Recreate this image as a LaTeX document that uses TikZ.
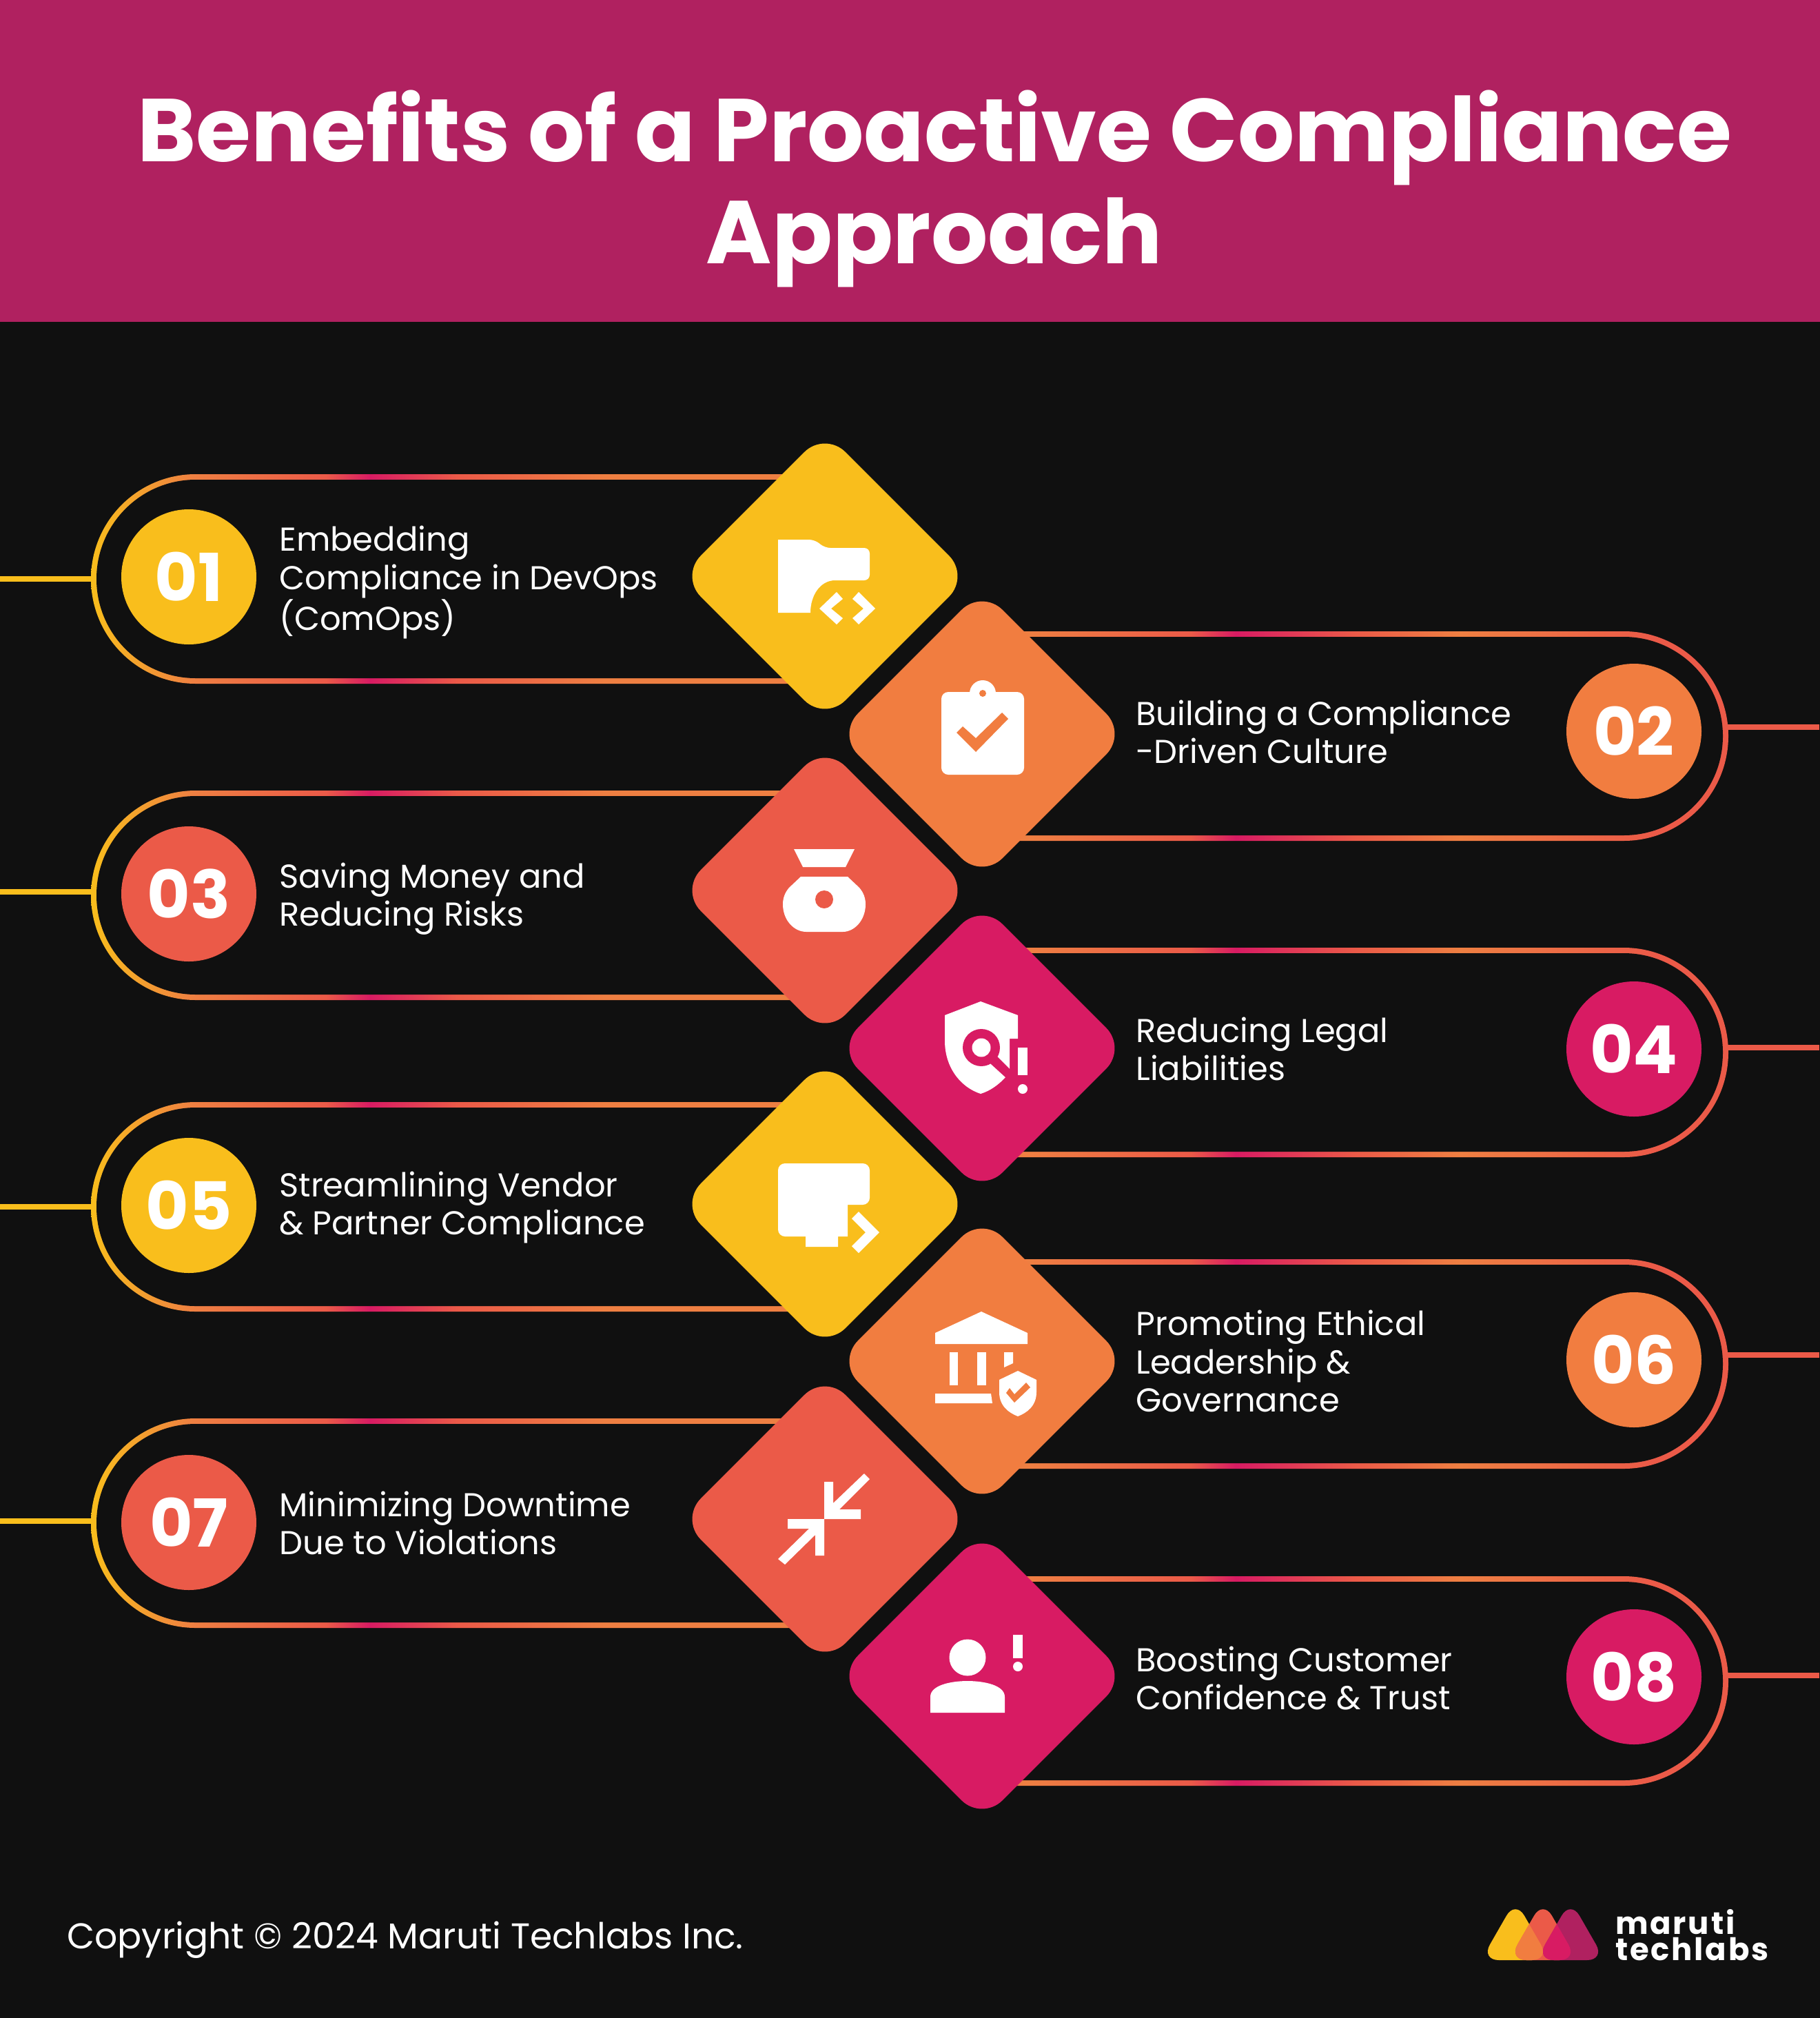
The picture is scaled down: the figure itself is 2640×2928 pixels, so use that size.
\documentclass[tikz,border=0pt]{standalone}
\usepackage{fontspec}
\usepackage{tikz}
\usetikzlibrary{shapes.geometric}
\setmainfont{Poppins}
\newfontfamily\logofont[LetterSpace=6.0]{Poppins}

\definecolor{bgdark}{HTML}{101010}
\definecolor{headerplum}{HTML}{B02160}
\definecolor{ityellow}{HTML}{F9BE1C}
\definecolor{itorange}{HTML}{F17D40}
\definecolor{itcoral}{HTML}{EB5A48}
\definecolor{itpink}{HTML}{D81B63}
\definecolor{ringorange}{HTML}{EE7F42}

\pgfdeclarehorizontalshading{ringleft}{100bp}{color(0bp)=(ityellow); color(25bp)=(ityellow); color(32bp)=(ringorange); color(41bp)=(itcoral); color(44bp)=(itpink); color(50bp)=(itcoral); color(60bp)=(ringorange); color(100bp)=(ringorange)}
\pgfdeclarehorizontalshading{ringright}{100bp}{color(0bp)=(ringorange); color(28bp)=(ringorange); color(39bp)=(itcoral); color(42bp)=(itpink); color(50bp)=(itcoral); color(57bp)=(ringorange); color(70bp)=(itcoral); color(100bp)=(itcoral)}

\tikzset{
  pillL/.style={shading=ringleft},
  pillR/.style={shading=ringright},
  pillin/.style={fill=bgdark},
  stub/.style={line width=3.8pt},
  numdot/.style={circle, minimum size=98pt, inner sep=0pt, text=white, font=\fontsize{48}{48}\selectfont\bfseries},
  itemtext/.style={anchor=west, align=left, inner sep=0pt, text=white, font=\fontsize{24}{27.7}\selectfont},
  icondiamond/.style={diamond, aspect=1, minimum size=210pt, inner sep=0pt, rounded corners=21pt},
  iconwhite/.style={fill=white}
}

\begin{document}
\begin{tikzpicture}[x=0.5pt,y=-0.5pt]
  \useasboundingbox (0,0) rectangle (2640,2928);
  % background and header band
  \fill[bgdark] (-5,-5) rectangle (2645,2933);
  \fill[headerplum] (-5,-5) rectangle (2645,467);
  \node[align=center, text=white, inner sep=0pt, font=\fontsize{64.7}{74.3}\selectfont\bfseries] (title) at (1356,274)
    {\spaceskip=13pt Benefits of a Proactive Compliance\\Approach};

  % rings on the left
  \shade[pillL] (1197,688) [rounded corners=76pt] -- (132,688) -- (132,992) [sharp corners] -- (1197,992) -- cycle;
  \fill[pillin] (1197,696) [rounded corners=72pt] -- (140,696) -- (140,984) [sharp corners] -- (1197,984) -- cycle;
  \shade[pillL] (1197,1147) [rounded corners=76pt] -- (132,1147) -- (132,1451) [sharp corners] -- (1197,1451) -- cycle;
  \fill[pillin] (1197,1155) [rounded corners=72pt] -- (140,1155) -- (140,1443) [sharp corners] -- (1197,1443) -- cycle;
  \shade[pillL] (1197,1599) [rounded corners=76pt] -- (132,1599) -- (132,1903) [sharp corners] -- (1197,1903) -- cycle;
  \fill[pillin] (1197,1607) [rounded corners=72pt] -- (140,1607) -- (140,1895) [sharp corners] -- (1197,1895) -- cycle;
  \shade[pillL] (1197,2058) [rounded corners=76pt] -- (132,2058) -- (132,2362) [sharp corners] -- (1197,2362) -- cycle;
  \fill[pillin] (1197,2066) [rounded corners=72pt] -- (140,2066) -- (140,2354) [sharp corners] -- (1197,2354) -- cycle;

  % rings on the right
  \shade[pillR] (1425,916) [rounded corners=76pt] -- (2508,916) -- (2508,1220) [sharp corners] -- (1425,1220) -- cycle;
  \fill[pillin] (1425,924) [rounded corners=72pt] -- (2500,924) -- (2500,1212) [sharp corners] -- (1425,1212) -- cycle;
  \shade[pillR] (1425,1375) [rounded corners=76pt] -- (2508,1375) -- (2508,1679) [sharp corners] -- (1425,1679) -- cycle;
  \fill[pillin] (1425,1383) [rounded corners=72pt] -- (2500,1383) -- (2500,1671) [sharp corners] -- (1425,1671) -- cycle;
  \shade[pillR] (1425,1827) [rounded corners=76pt] -- (2508,1827) -- (2508,2131) [sharp corners] -- (1425,2131) -- cycle;
  \fill[pillin] (1425,1835) [rounded corners=72pt] -- (2500,1835) -- (2500,2123) [sharp corners] -- (1425,2123) -- cycle;
  \shade[pillR] (1425,2287) [rounded corners=76pt] -- (2508,2287) -- (2508,2591) [sharp corners] -- (1425,2591) -- cycle;
  \fill[pillin] (1425,2295) [rounded corners=72pt] -- (2500,2295) -- (2500,2583) [sharp corners] -- (1425,2583) -- cycle;

  % stubs at the page edges
  \coordinate (inA) at (0,840);    \coordinate (ringA) at (134,840);
  \coordinate (inC) at (0,1294);   \coordinate (ringC) at (134,1294);
  \coordinate (inE) at (0,1751);   \coordinate (ringE) at (134,1751);
  \coordinate (inG) at (0,2207);   \coordinate (ringG) at (134,2207);
  \coordinate (inB) at (2640,1055); \coordinate (ringB) at (2506,1055);
  \coordinate (inD) at (2640,1520); \coordinate (ringD) at (2506,1520);
  \coordinate (inF) at (2640,1966); \coordinate (ringF) at (2506,1966);
  \coordinate (inH) at (2640,2431); \coordinate (ringH) at (2506,2431);
  \draw[stub, ityellow] (inA) -- (ringA);
  \draw[stub, ityellow] (inC) -- (ringC);
  \draw[stub, ityellow] (inE) -- (ringE);
  \draw[stub, ityellow] (inG) -- (ringG);
  \draw[stub, itcoral] (inB) -- (ringB);
  \draw[stub, itcoral] (inD) -- (ringD);
  \draw[stub, itcoral] (inF) -- (ringF);
  \draw[stub, itcoral] (inH) -- (ringH);

  % number discs
  \node[numdot, fill=ityellow] (numA) at (274,837) {01};
  \node[numdot, fill=itorange] (numB) at (2371,1061) {02};
  \node[numdot, fill=itcoral] (numC) at (274,1297) {03};
  \node[numdot, fill=itpink] (numD) at (2371,1522) {04};
  \node[numdot, fill=ityellow] (numE) at (274,1749) {05};
  \node[numdot, fill=itorange] (numF) at (2371,1973) {06};
  \node[numdot, fill=itcoral] (numG) at (274,2209) {07};
  \node[numdot, fill=itpink] (numH) at (2371,2433) {08};

  % labels
  \node[itemtext] (txtA) at (405,845) {Embedding\\Compliance in DevOps\\(ComOps)};
  \node[itemtext] (txtB) at (1648,1062) {Building a Compliance\\-Driven Culture};
  \node[itemtext] (txtC) at (405,1304) {Saving Money and\\Reducing Risks};
  \node[itemtext] (txtD) at (1648,1522) {Reducing Legal\\Liabilities};
  \node[itemtext] (txtE) at (405,1752) {Streamlining Vendor\\\& Partner Compliance};
  \node[itemtext] (txtF) at (1648,1975) {Promoting Ethical\\Leadership \&\\Governance};
  \node[itemtext] (txtG) at (405,2210) {Minimizing Downtime\\Due to Violations};
  \node[itemtext] (txtH) at (1648,2435) {Boosting Customer\\Confidence \& Trust};

  % diamonds
  \node[icondiamond, fill=ityellow] (gemA) at (1197,836) {};
  \node[icondiamond, fill=itorange] (gemB) at (1425,1065) {};
  \node[icondiamond, fill=itcoral] (gemC) at (1197,1292) {};
  \node[icondiamond, fill=itpink] (gemD) at (1425,1521) {};
  \node[icondiamond, fill=ityellow] (gemE) at (1197,1747) {};
  \node[icondiamond, fill=itorange] (gemF) at (1425,1975) {};
  \node[icondiamond, fill=itcoral] (gemG) at (1197,2204) {};
  \node[icondiamond, fill=itpink] (gemH) at (1425,2432) {};

  % icon: folder with code marks
  \fill[iconwhite, rounded corners=4pt] (1129,783) -- (1182,783) -- (1197,795) -- (1262,795) -- (1262,842) -- (1220,842)
    [sharp corners] .. controls (1190,842) and (1176,864) .. (1176,889) -- (1129,889) -- cycle;
  \fill[iconwhite] (1189,883) -- (1214,859) -- (1223,869) -- (1206,883) -- (1223,897) -- (1214,906) -- cycle;
  \fill[iconwhite] (1270,883) -- (1246,859) -- (1237,869) -- (1253,883) -- (1237,897) -- (1246,906) -- cycle;

  % icon: clipboard with tick
  \fill[iconwhite] (1426,1006) circle (19);
  \fill[iconwhite, rounded corners=5pt] (1366,1004) rectangle (1486,1124);
  \fill[itorange] (1426,1006) circle (5);
  \fill[itorange] (1388,1063) -- (1397,1054) -- (1416,1071) -- (1454,1034) -- (1463,1043) -- (1416,1091) -- cycle;

  % icon: money bag
  \fill[iconwhite] (1152,1232) -- (1240,1232) -- (1227,1258) -- (1165,1258) -- cycle;
  \fill[iconwhite] (1162,1272) -- (1230,1272) -- (1247,1288) .. controls (1253,1295) and (1256,1303) .. (1256,1312)
    .. controls (1256,1335) and (1240,1352) .. (1223,1352) -- (1170,1352) .. controls (1152,1352) and (1136,1335) .. (1136,1312)
    .. controls (1136,1303) and (1139,1295) .. (1145,1288) -- cycle;
  \fill[itcoral] (1196,1305) circle (13);

  % icon: shield with magnifier
  \fill[iconwhite] (1423,1453) -- (1477,1473) -- (1477,1507) -- (1465,1507) -- (1465,1551) -- (1459,1563)
    .. controls (1448,1575) and (1436,1583) .. (1423,1587) .. controls (1395,1578) and (1371,1550) .. (1371,1510) -- (1371,1473) -- cycle;
  \fill[itpink] (1424,1520) circle (27);
  \fill[iconwhite] (1424,1520) circle (13.5);
  \fill[itpink] (1447,1533) -- (1466,1552) -- (1466,1566) -- (1459,1563) -- (1437,1543) -- cycle;
  \fill[iconwhite] (1477,1520) rectangle (1491,1560);
  \fill[iconwhite] (1484,1580) circle (7);

  % icon: screen with arrow
  \fill[iconwhite, rounded corners=5pt] (1129,1688) -- (1262,1688) -- (1262,1748) [sharp corners] -- (1230,1748) -- (1230,1794) -- (1216,1794) -- (1216,1809) -- (1169,1809)
    -- (1169,1794) [rounded corners=5pt] -- (1129,1794) -- cycle;
  \fill[iconwhite] (1246,1758) -- (1276,1788) -- (1246,1818) -- (1236,1808) -- (1256,1788) -- (1236,1768) -- cycle;

  % icon: bank with small shield
  \fill[iconwhite] (1424,1903) -- (1491,1934) -- (1491,1950) -- (1357,1950) -- (1357,1934) -- cycle;
  \fill[iconwhite] (1378,1962) rectangle (1390,2010);
  \fill[iconwhite] (1418,1962) rectangle (1431,2010);
  \fill[iconwhite] (1457,1962) -- (1470,1962) -- (1470,1978) -- (1457,1984) -- cycle;
  \fill[iconwhite] (1357,2022) -- (1438,2022) -- (1440,2036) -- (1357,2036) -- cycle;
  \fill[iconwhite] (1477,1989) -- (1504,2002) -- (1504,2020) .. controls (1504,2040) and (1490,2050) .. (1477,2055)
    .. controls (1464,2050) and (1450,2040) .. (1450,2020) -- (1450,2002) -- cycle;
  \fill[itorange] (1460,2021) -- (1465,2014) -- (1472,2023) -- (1489,2006) -- (1495,2013) -- (1472,2035) -- cycle;

  % icon: arrows pointing inward
  \fill[iconwhite] (1196,2150) -- (1209,2150) -- (1209,2181) -- (1254,2138) -- (1262,2146) -- (1218,2190) -- (1249,2190) -- (1249,2204) -- (1196,2204) -- cycle;
  \fill[iconwhite] (1196,2257) -- (1183,2257) -- (1183,2227) -- (1139,2270) -- (1129,2262) -- (1174,2218) -- (1143,2218) -- (1143,2204) -- (1196,2204) -- cycle;

  % icon: person with warning mark
  \fill[iconwhite] (1404,2405) circle (26.5);
  \fill[iconwhite] (1350,2485) -- (1350,2462) .. controls (1350,2445) and (1380,2439) .. (1404,2439)
    .. controls (1428,2439) and (1458,2445) .. (1458,2462) -- (1458,2485) -- cycle;
  \fill[iconwhite] (1470,2372) rectangle (1484,2406);
  \fill[iconwhite] (1477,2418) circle (7);

  % footer
  \node[anchor=west, inner sep=0pt, text=white, font=\fontsize{26}{30}\selectfont] (copy) at (97,2815) {Copyright © 2024 Maruti Techlabs Inc.};

  % logo
  \fill[ityellow, rounded corners=13pt] (2199,2757) -- (2249,2844) -- (2149,2844) -- cycle;
  \fill[itcoral, rounded corners=13pt] (2239,2757) -- (2289,2844) -- (2189,2844) -- cycle;
  \fill[headerplum, rounded corners=13pt] (2279,2757) -- (2329,2844) -- (2229,2844) -- cycle;
  \begin{scope}
    \clip[rounded corners=13pt] (2199,2757) -- (2249,2844) -- (2149,2844) -- cycle;
    \fill[itorange, rounded corners=13pt] (2239,2757) -- (2289,2844) -- (2189,2844) -- cycle;
  \end{scope}
  \begin{scope}
    \clip[rounded corners=13pt] (2239,2757) -- (2289,2844) -- (2189,2844) -- cycle;
    \fill[itpink, rounded corners=13pt] (2279,2757) -- (2329,2844) -- (2229,2844) -- cycle;
  \end{scope}
  \node[anchor=base west, inner sep=0pt, text=white, font=\logofont\fontsize{22.5}{24}\selectfont\bfseries] (logoA) at (2344,2806) {maruti};
  \node[anchor=base west, inner sep=0pt, text=white, font=\logofont\fontsize{22.5}{24}\selectfont\bfseries] (logoB) at (2344,2844) {techlabs};
\end{tikzpicture}
\end{document}
